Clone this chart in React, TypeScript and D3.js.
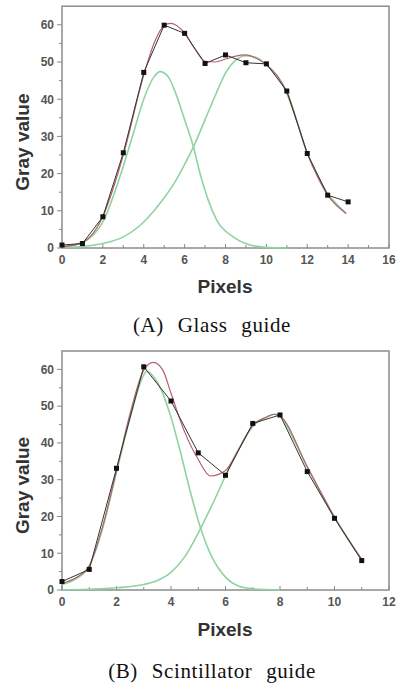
import React from "react";
import * as d3 from "d3";

// ---- (A) Glass guide ----
const glassX = [0, 1, 2, 3, 4, 5, 6, 7, 8, 9, 10, 11, 12, 13, 14];
const glassY = [0.8, 1.2, 8.4, 25.6, 47.2, 59.9, 57.7, 49.6, 51.9, 49.8, 49.5, 42.2, 25.4, 14.2, 12.4];

const glassFitX = [0, 1, 2, 3, 4, 4.5, 5, 5.3, 6, 6.5, 7, 7.5, 8, 8.5, 9, 9.5, 10, 11, 12, 13, 13.9];
const glassFitY = [0.3, 1.5, 8.5, 25, 46.5, 55, 59.8, 60.4, 57.8, 53.5, 50.2, 50, 50.8, 51.6, 51.9, 51, 49.3, 42, 25.5, 14.2, 9.3];

const glassPeak1X = [0, 1, 2, 3, 3.5, 4, 4.5, 4.8, 5.2, 5.5, 6, 6.42, 6.75, 7.57, 8.38, 9.2, 10, 11];
const glassPeak1Y = [0.3, 1.5, 7, 22, 31, 40, 46, 47.4, 46, 42.5, 34.5, 27.4, 20.1, 7.5, 3, 0.8, 0.2, 0];

const glassPeak2X = [0, 1, 2, 3, 4, 4.5, 5, 5.5, 6, 6.5, 7, 7.5, 8, 8.5, 9, 9.5, 10, 10.5, 11, 11.5, 12, 12.5, 13, 13.5, 13.9];
const glassPeak2Y = [0.1, 0.4, 1.2, 3, 7, 10, 13.5, 17.5, 22.5, 28, 34.5, 41, 47, 50.5, 51.7, 51.2, 49.2, 46.5, 41.5, 34, 25.5, 19.5, 14.5, 11.5, 9.3];

// ---- (B) Scintillator guide ----
const scintX = [0, 1, 2, 3, 4, 5, 6, 7, 8, 9, 10, 11];
const scintY = [2.3, 5.6, 33.1, 60.7, 51.4, 37.3, 31.2, 45.3, 47.6, 32.2, 19.5, 8.0];

const scintFitX = [0, 0.5, 1, 1.5, 2, 2.5, 3, 3.35, 3.7, 4, 4.5, 5, 5.45, 6, 6.5, 7, 7.5, 7.8, 8, 9, 10, 11];
const scintFitY = [1.8, 3.3, 6.6, 17.5, 32.5, 48, 59.8, 61.9, 59.8, 53.5, 43, 35.5, 31, 32.5, 38.5, 44.8, 47, 47.8, 47.3, 33.5, 19.8, 8.3];

const scintPeak1X = [0, 0.5, 1, 1.5, 2, 2.5, 3, 3.1, 3.5, 4, 4.33, 4.7, 5.07, 5.5, 6, 6.5, 7, 8];
const scintPeak1Y = [1.5, 3, 6.5, 17, 32, 47, 58.5, 59.5, 56.5, 47, 38, 27, 17.2, 9, 3.5, 1, 0.3, 0];

const scintPeak2X = [0, 1, 2, 3, 3.5, 4, 4.5, 5, 5.5, 6, 6.5, 7, 7.5, 7.8, 8, 8.5, 9, 9.5, 10, 10.5, 11];
const scintPeak2Y = [0, 0.2, 0.6, 1.5, 2.6, 4.8, 9, 15.5, 23, 31, 38.5, 44.5, 47, 47.8, 47.3, 41, 33.5, 26.5, 19.8, 13.8, 8.3];

const glassXTicks = [0, 2, 4, 6, 8, 10, 12, 14, 16];
const scintXTicks = [0, 2, 4, 6, 8, 10, 12];
const yTicks = [0, 10, 20, 30, 40, 50, 60];

const zip = (xs: number[], ys: number[]) => xs.map((x, i) => [x, ys[i]] as [number, number]);

const AXIS_FONT = "'Liberation Sans', Arial, sans-serif";
const CAPTION_FONT = "'Liberation Serif', 'Times New Roman', serif";
const GREEN = "#8fd3a0";
const RED = "#b4606a";

function Panel({ px, py, fit, p1, p2, xMax, xTicks, top, bottom, caption, captionY, pixelsY }: any) {
  const left = 62, right = 389;
  const x = d3.scaleLinear().domain([0, xMax]).range([left, right]);
  const y = d3.scaleLinear().domain([0, 65]).range([bottom, top]);

  const smooth = d3.line<[number, number]>().x(d => x(d[0])).y(d => y(d[1])).curve(d3.curveMonotoneX);
  const straight = d3.line<[number, number]>().x(d => x(d[0])).y(d => y(d[1]));

  const minorX = d3.range(0, xMax + 0.01, 1);
  const minorY = d3.range(0, 65, 5);
  const pts = zip(px, py);

  return (
    <g>
      <rect x={left} y={top} width={right - left} height={bottom - top} fill="none" stroke="#8c8c8c" strokeWidth={1.5} />
      {minorY.map(v => (
        <line key={"my" + v} x1={left} x2={left - (v % 10 === 0 ? 5 : 3)} y1={y(v)} y2={y(v)} stroke="#888" strokeWidth={1} />
      ))}
      {minorX.map(v => (
        <line key={"mx" + v} x1={x(v)} x2={x(v)} y1={bottom} y2={bottom - (v % 2 === 0 ? 4 : 3)} stroke="#888" strokeWidth={1} />
      ))}
      {yTicks.map(v => (
        <text key={"ty" + v} x={left - 8} y={y(v)} dy="0.36em" textAnchor="end" fontFamily={AXIS_FONT} fontWeight="bold" fontSize={12} fill="#555">{v}</text>
      ))}
      {xTicks.map((v: number) => (
        <text key={"tx" + v} x={x(v)} y={bottom + 16} textAnchor="middle" fontFamily={AXIS_FONT} fontWeight="bold" fontSize={12} fill="#555">{v}</text>
      ))}

      <path d={smooth(zip(p1[0], p1[1])) || ""} fill="none" stroke={GREEN} strokeWidth={1.6} />
      <path d={smooth(zip(p2[0], p2[1])) || ""} fill="none" stroke={GREEN} strokeWidth={1.6} />
      <path d={smooth(zip(fit[0], fit[1])) || ""} fill="none" stroke={RED} strokeWidth={1.2} />
      <path d={straight(pts) || ""} fill="none" stroke="#333" strokeWidth={1} />
      {pts.map((d, i) => (
        <rect key={"p" + i} x={x(d[0]) - 2.5} y={y(d[1]) - 2.5} width={5} height={5} fill="#111" />
      ))}

      <text transform={`translate(29, ${(top + bottom) / 2 + 15}) rotate(-90)`} textAnchor="middle" fontFamily={AXIS_FONT} fontWeight="bold" fontSize={19} fill="#333">Gray value</text>
      <text x={225} y={pixelsY} textAnchor="middle" fontFamily={AXIS_FONT} fontWeight="bold" fontSize={19} fill="#333">Pixels</text>
      <text x={212} y={captionY} textAnchor="middle" fontFamily={CAPTION_FONT} fontSize={21} fill="#111" style={{ wordSpacing: "8px", letterSpacing: "0.6px" }}>{caption}</text>
    </g>
  );
}

export default function App() {
  return (
    <svg width={398} height={686} style={{ position: "absolute", left: 0, top: 0, background: "#fff" }}>
      <Panel px={glassX} py={glassY} fit={[glassFitX, glassFitY]} p1={[glassPeak1X, glassPeak1Y]} p2={[glassPeak2X, glassPeak2Y]}
        xMax={16} xTicks={glassXTicks} top={6.2} bottom={248} caption="(A) Glass guide" captionY={332} pixelsY={293} />
      <Panel px={scintX} py={scintY} fit={[scintFitX, scintFitY]} p1={[scintPeak1X, scintPeak1Y]} p2={[scintPeak2X, scintPeak2Y]}
        xMax={12} xTicks={scintXTicks} top={351} bottom={590} caption="(B) Scintillator guide" captionY={678} pixelsY={636} />
    </svg>
  );
}
